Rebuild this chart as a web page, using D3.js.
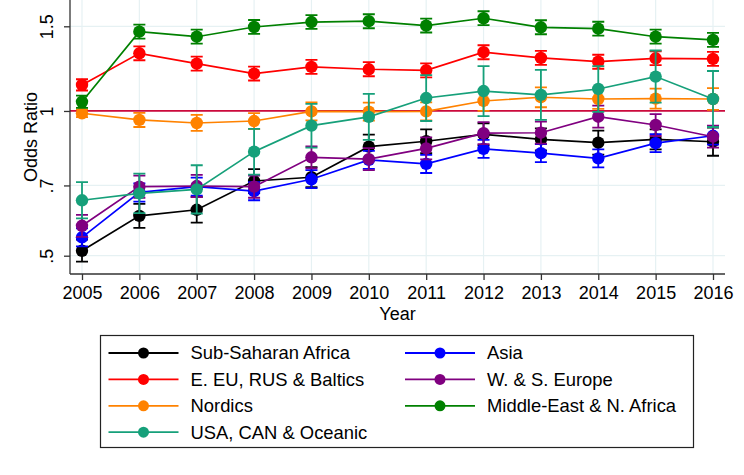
<!DOCTYPE html>
<html><head><meta charset="utf-8">
<script src="https://cdn.jsdelivr.net/npm/d3@7"></script>
<style>body{margin:0;background:#fff}svg{display:block;font-family:"Liberation Sans",Arial,sans-serif}</style>
</head><body><svg id="c" width="744" height="475"></svg>
<script>
const years = [2005,2006,2007,2008,2009,2010,2011,2012,2013,2014,2015,2016];
const yTicks = [0.5,0.7,1,1.5];
const yTickLabels = [".5",".7","1","1.5"];

const ssaVal = [0.512,0.605,0.623,0.715,0.728,0.843,0.865,0.894,0.873,0.859,0.873,0.863];
const ssaLo  = [0.486,0.571,0.586,0.675,0.694,0.796,0.817,0.848,0.828,0.811,0.832,0.807];
const ssaHi  = [0.540,0.641,0.663,0.757,0.764,0.893,0.916,0.942,0.920,0.910,0.916,0.923];

const asiaVal = [0.546,0.677,0.696,0.681,0.721,0.791,0.776,0.834,0.817,0.797,0.857,0.888];
const asiaLo  = [0.523,0.648,0.667,0.652,0.691,0.758,0.743,0.799,0.783,0.763,0.821,0.851];
const asiaHi  = [0.570,0.707,0.727,0.711,0.753,0.826,0.810,0.871,0.853,0.832,0.895,0.927];

const eeuVal = [1.133,1.318,1.254,1.196,1.235,1.221,1.215,1.325,1.289,1.266,1.287,1.283];
const eeuLo  = [1.103,1.275,1.213,1.157,1.194,1.181,1.175,1.281,1.247,1.224,1.245,1.241];
const eeuHi  = [1.164,1.363,1.297,1.237,1.277,1.263,1.256,1.370,1.333,1.309,1.331,1.327];

const wseVal = [0.577,0.696,0.698,0.696,0.801,0.794,0.836,0.899,0.901,0.973,0.935,0.884];
const wseLo  = [0.547,0.660,0.662,0.660,0.760,0.753,0.793,0.853,0.855,0.923,0.887,0.839];
const wseHi  = [0.608,0.734,0.736,0.734,0.844,0.837,0.881,0.948,0.950,1.026,0.985,0.932];

const nordVal = [0.989,0.958,0.944,0.953,0.998,0.997,0.998,1.049,1.068,1.059,1.061,1.059];
const nordLo  = [0.971,0.926,0.909,0.917,0.956,0.955,0.956,1.000,1.018,1.010,1.011,1.005];
const nordHi  = [1.008,0.991,0.981,0.990,1.042,1.041,1.042,1.100,1.120,1.111,1.113,1.116];

const menaVal = [1.045,1.462,1.427,1.495,1.531,1.537,1.505,1.559,1.493,1.483,1.427,1.405];
const menaLo  = [1.015,1.414,1.380,1.446,1.481,1.486,1.456,1.508,1.444,1.434,1.380,1.359];
const menaHi  = [1.076,1.512,1.476,1.546,1.583,1.589,1.556,1.612,1.544,1.533,1.476,1.453];

const usaVal = [0.652,0.674,0.687,0.823,0.932,0.972,1.064,1.100,1.080,1.111,1.179,1.059];
const usaLo  = [0.598,0.613,0.612,0.737,0.839,0.871,0.953,0.976,0.958,0.996,1.041,0.926];
const usaHi  = [0.711,0.741,0.771,0.918,1.035,1.085,1.187,1.240,1.217,1.240,1.336,1.211];

const seriesNames = ["Sub-Saharan Africa","Asia","E. EU, RUS & Baltics","W. & S. Europe","Nordics","Middle-East & N. Africa","USA, CAN & Oceanic"];
const seriesColors = ["#000000","#0000ff","#ff0000","#800080","#ff8200","#008000","#16a07a"];

const series = [
  {v:ssaVal,lo:ssaLo,hi:ssaHi},
  {v:asiaVal,lo:asiaLo,hi:asiaHi},
  {v:eeuVal,lo:eeuLo,hi:eeuHi},
  {v:wseVal,lo:wseLo,hi:wseHi},
  {v:nordVal,lo:nordLo,hi:nordHi},
  {v:menaVal,lo:menaLo,hi:menaHi},
  {v:usaVal,lo:usaLo,hi:usaHi}
].map((s,i)=>Object.assign(s,{name:seriesNames[i],color:seriesColors[i]}));

const svg = d3.select("#c");
const L=70, R=725, B=274, T=0;
const x = d3.scaleLinear().domain([2005,2016]).range([82,713]);
const y = d3.scaleLog().domain([0.5,1.5]).range([255.7,26.3]);

// gridlines
const grid = svg.append("g").attr("stroke","#e6f1f3").attr("stroke-width",1.2);
years.forEach(yr=>grid.append("line").attr("x1",x(yr)).attr("x2",x(yr)).attr("y1",T).attr("y2",B));
yTicks.forEach(t=>grid.append("line").attr("x1",L).attr("x2",R).attr("y1",y(t)).attr("y2",y(t)));

// reference line at 1
svg.append("line").attr("x1",L).attr("x2",R).attr("y1",y(1)).attr("y2",y(1))
  .attr("stroke","#cc0a3c").attr("stroke-width",1.8);

// axes
const xAxis = d3.axisBottom(x).tickValues(years).tickFormat(d3.format("d")).tickSize(6).tickPadding(6);
const gx = svg.append("g").attr("transform",`translate(0,${B})`).call(xAxis);
gx.select(".domain").attr("d",`M${L},0H${R}`);
const yAxis = d3.axisLeft(y).tickValues(yTicks).tickFormat((d,i)=>yTickLabels[i]).tickSize(6);
const gy = svg.append("g").attr("transform",`translate(${L},0)`).call(yAxis);
gy.select(".domain").attr("d",`M0,${T}V${B}`);
[gx,gy].forEach(g=>{g.selectAll(".domain,line").attr("stroke","#333").attr("stroke-width",1.3);
  g.selectAll("text").attr("font-size",18).attr("fill","#000").attr("font-family","Liberation Sans, Arial, sans-serif");});
gy.selectAll("text").attr("x",null).attr("dy",null).attr("text-anchor","middle")
  .attr("transform","translate(-17,0) rotate(-90)").attr("dy","0");
gx.selectAll("text").attr("dy","0.71em");

svg.append("text").attr("x",397.5).attr("y",320).attr("text-anchor","middle").attr("font-size",18).text("Year");
svg.append("text").attr("transform","translate(37,137) rotate(-90)").attr("text-anchor","middle").attr("font-size",18).text("Odds Ratio");

// series
const line = d3.line().x((d,i)=>x(years[i])).y(d=>y(d));
series.forEach(s=>{
  const g = svg.append("g");
  g.append("path").attr("d",line(s.v)).attr("fill","none").attr("stroke",s.color).attr("stroke-width",1.7);
  years.forEach((yr,i)=>{
    const cx=x(yr), y0=y(s.lo[i]), y1=y(s.hi[i]);
    g.append("path").attr("d",`M${cx},${y0}V${y1}M${cx-6},${y0}H${cx+6}M${cx-6},${y1}H${cx+6}`)
      .attr("stroke",s.color).attr("stroke-width",1.8).attr("fill","none");
    g.append("circle").attr("cx",cx).attr("cy",y(s.v[i])).attr("r",6.2).attr("fill",s.color);
  });
});

// legend
const lg = svg.append("g");
lg.append("rect").attr("x",100.5).attr("y",335.5).attr("width",593).attr("height",112)
  .attr("fill","#fff").attr("stroke","#222").attr("stroke-width",1.2);
series.forEach((s,k)=>{
  const col=k%2, row=Math.floor(k/2);
  const x0 = col===0?108.5:405, cy = 353+row*26.4;
  lg.append("line").attr("x1",x0).attr("x2",x0+70).attr("y1",cy).attr("y2",cy).attr("stroke",s.color).attr("stroke-width",1.8);
  lg.append("circle").attr("cx",x0+35).attr("cy",cy).attr("r",5.5).attr("fill",s.color);
  lg.append("text").attr("x",x0+82).attr("y",cy+6.4).attr("font-size",18.4).text(s.name);
});
</script></body></html>
